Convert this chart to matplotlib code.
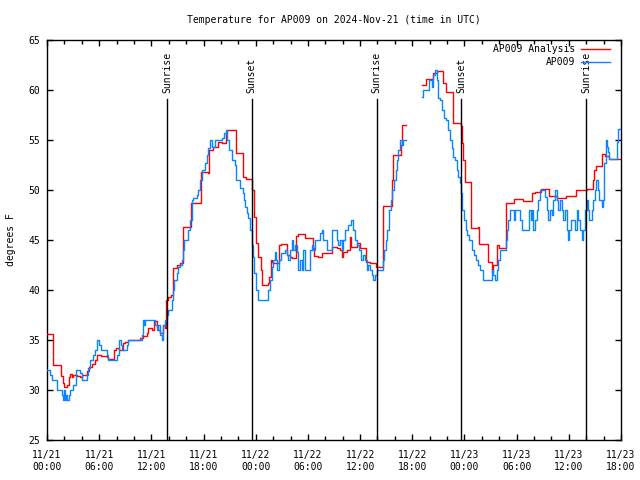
import numpy as np
import matplotlib
matplotlib.use("Agg")
import matplotlib.pyplot as plt
import matplotlib.transforms as mtransforms

# ---- data (hours since 2024-11-21 00:00 UTC) ----
analysis_hours = [0, 0.65, 1.57, 1.8, 1.96, 2.26, 2.49, 2.64, 2.84, 3.03, 3.41, 3.79, 3.99,
                  4.64, 4.79, 5.14, 5.52, 5.71, 6.17, 6.86, 7.05, 7.7, 7.93, 8.32, 8.7, 9.01,
                  9.35, 10.69, 11.0, 11.46, 11.65, 12.04, 12.3, 12.61, 12.8, 12.99, 13.38,
                  13.57, 13.68, 13.95, 14.22, 14.45, 14.52, 14.91, 15.29, 15.6, 15.68, 16.56,
                  17.71, 18.55, 18.67, 19.12, 19.7, 20.08, 20.58, 20.73, 21.73, 22.57, 22.88,
                  23.53, 23.61, 23.84, 24.03, 24.3, 24.57, 24.68, 25.45, 25.57, 25.72, 25.91,
                  26.02, 26.71, 26.87, 27.63, 27.94, 28.13, 28.63, 28.9, 29.67, 30.63, 30.74,
                  31.2, 31.58, 32.73, 33.31, 33.69, 33.88, 34.07, 34.46, 34.84, 34.96, 35.61,
                  35.99, 36.64, 37.14, 37.83, 38.59, 38.67, 39.71, 39.75, 40.7, 40.78, 41.27,
                  43.15, 43.58, 44.42, 44.81, 45.57, 45.88, 46.64, 47.57, 47.76, 47.87, 48.06,
                  48.71, 49.6, 49.71, 50.74, 51.13, 51.32, 51.78, 52.01, 52.74, 53.7, 54.77,
                  55.8, 56.1, 56.76, 57.76, 58.6, 59.68, 60.85, 62.1, 62.75, 62.9, 63.15,
                  63.8, 64.17, 64.66, 66.0]
analysis_temps = [35.6, 32.5, 31.4, 30.7, 30.3, 30.5, 31.3, 31.6, 31.3, 31.5, 31.4, 31.3, 31.5,
                  31.9, 32.3, 32.6, 33.0, 33.5, 33.4, 33.3, 33.1, 34.0, 34.2, 34.0, 34.7, 34.8,
                  35.0, 35.2, 35.4, 35.7, 36.2, 36.0, 36.9, 36.3, 36.0, 35.7, 36.5,
                  36.2, 39.0, 39.3, 39.5, 40.0, 42.2, 42.5, 42.7, 43.7, 46.3, 48.7,
                  51.8, 51.7, 54.0, 54.3, 54.8, 54.7, 55.7, 56.0, 53.7, 51.3, 51.1,
                  51.0, 50.0, 47.3, 44.7, 43.3, 42.0, 40.5, 40.7, 41.3, 43.0, 42.8,
                  42.7, 44.5, 44.6, 43.5, 43.3, 43.2, 45.4, 45.6, 45.2, 44.2, 43.4,
                  43.3, 43.7, 44.3, 44.2, 44.0, 43.3, 43.8, 44.0, 45.3, 44.3, 44.7,
                  44.2, 42.8, 42.7, 42.3, 45.3, 48.4, 51.0, 53.5, 54.5, 56.5, np.nan,
                  60.5, 61.1, 61.7, 61.9, 60.7, 59.8, 56.7, 56.4, 54.7, 53.0, 50.8,
                  46.2, 46.3, 44.6, 42.8, 41.8, 42.5, 44.5, 44.2, 48.7, 49.1, 48.9,
                  49.7, 49.8, 50.1, 49.4, 49.2, 49.4, 50.0, 50.1, 51.0, 52.0, 52.4,
                  53.6, 53.4, 53.1, 53.1]

station_hours = [0, 0.35, 0.54, 1.11, 1.69, 1.8, 1.92, 2.07, 2.18, 2.34, 2.49, 2.64, 3.03,
                 3.33, 3.79, 3.99, 4.56, 4.75, 4.94, 5.33, 5.52, 5.79, 6.02, 6.21, 6.86, 7.05,
                 8.01, 8.28, 8.47, 8.59, 9.24, 9.35, 10.88, 11.08, 11.19, 11.31, 12.42, 12.61,
                 12.8, 12.99, 13.19, 13.38, 13.57, 13.76, 13.95, 14.41, 14.52, 14.64, 14.91,
                 15.1, 15.29, 15.48, 15.6, 15.79, 16.25, 16.44, 16.63, 16.83, 17.21, 17.4,
                 17.59, 17.79, 18.17, 18.36, 18.55, 18.74, 18.93, 19.32, 20.08, 20.35, 20.58,
                 20.73, 20.96, 21.23, 21.61, 21.73, 22.19, 22.5, 22.65, 22.77, 22.96, 23.15,
                 23.34, 23.53, 23.65, 23.8, 24.03, 24.3, 25.26, 25.37, 25.64, 25.83, 26.02,
                 26.21, 26.33, 26.48, 26.71, 26.87, 27.37, 27.56, 27.75, 27.94, 28.13, 28.33,
                 28.52, 28.71, 28.9, 29.09, 29.28, 29.48, 29.67, 30.24, 30.43, 30.63, 30.82,
                 31.39, 31.58, 31.77, 32.15, 32.73, 33.31, 33.5, 33.69, 33.88, 34.07, 34.27,
                 34.65, 34.92, 35.15, 35.41, 35.61, 35.91, 36.06, 36.37, 36.56, 36.75, 36.95,
                 37.14, 37.33, 37.52, 37.71, 37.91, 38.59, 38.75, 38.94, 39.13, 39.33, 39.52,
                 39.71, 39.9, 40.09, 40.21, 40.4, 40.59, 40.78, 40.97, 41.27,
                 43.15, 43.25, 43.34, 43.96, 44.23, 44.42, 44.61, 44.81, 45.0, 45.19, 45.38,
                 45.65, 45.88, 46.15, 46.34, 46.53, 46.72, 46.91, 47.1, 47.3, 47.49, 47.6,
                 47.75, 47.95, 48.14, 48.33, 48.52, 48.83, 49.1, 49.33, 49.6, 49.79, 50.17,
                 51.13, 51.32, 51.51, 51.71, 51.9, 52.09, 52.74, 52.86, 53.05, 53.24, 53.7,
                 53.81, 54.39, 54.58, 55.46, 55.61, 55.73, 55.92, 56.11, 56.3, 56.49, 56.69,
                 57.26, 57.45, 57.64, 57.84, 58.03, 58.22, 58.41, 58.6, 58.79, 58.98, 59.17,
                 59.37, 59.56, 59.75, 59.86, 60.05, 60.2, 60.7, 60.9, 61.09, 61.28, 61.47,
                 61.66, 61.86, 62.05, 62.24, 62.35, 62.62, 62.81, 63.0, 63.09, 63.32, 63.51,
                 63.78, 63.9, 64.08, 64.24, 64.35, 64.54, 64.66, 65.57, 65.69, 66.0]
station_temps = [32.0, 31.5, 31.0, 30.0, 29.5, 29.0, 30.0, 29.0, 29.5, 29.0, 29.5, 30.0, 30.5,
                 32.0, 31.7, 31.0, 31.5, 32.2, 33.0, 33.5, 34.0, 35.0, 34.5, 34.0, 33.5, 33.0,
                 33.5, 35.0, 34.5, 34.0, 34.5, 35.0, 35.5, 37.0, 36.5, 37.0, 36.5, 36.0,
                 36.5, 35.5, 35.0, 36.5, 37.0, 37.5, 38.0, 39.0, 40.0, 41.0, 41.7,
                 42.3, 42.5, 43.0, 44.0, 45.0, 46.0, 47.0, 49.0, 49.2, 49.5, 50.0,
                 51.0, 52.0, 52.7, 53.5, 54.2, 55.0, 54.3, 55.0, 55.2, 55.7, 56.0,
                 55.0, 54.0, 53.0, 52.5, 51.0, 50.2, 49.7, 49.0, 48.3, 47.7, 47.2,
                 46.0, 44.5, 43.3, 41.7, 40.0, 39.0, 39.0, 40.0, 41.0, 42.3, 43.0,
                 43.8, 43.0, 42.0, 43.0, 43.7, 44.0, 43.5, 43.0, 44.0, 45.0, 44.0,
                 44.5, 43.8, 42.0, 43.0, 42.0, 44.0, 42.0, 44.0, 44.5, 44.0, 45.0,
                 45.7, 46.0, 45.0, 44.0, 46.0, 45.0, 44.5, 45.0, 44.0, 45.0, 46.0,
                 46.5, 47.0, 46.0, 45.0, 44.5, 44.0, 43.0, 43.5, 43.0, 42.0, 42.5,
                 42.0, 41.5, 41.0, 41.5, 42.0, 43.0, 44.0, 45.0, 46.0, 48.0, 49.0,
                 50.0, 51.0, 52.0, 53.0, 54.0, 55.0, 54.5, 55.0, np.nan,
                 59.3, 60.0, 60.0, 61.0, 60.3, 61.5, 62.0, 61.0, 59.2, 59.0, 58.0,
                 57.2, 57.0, 56.0, 55.0, 54.2, 53.3, 53.0, 52.0, 51.3, 50.7, 49.7,
                 48.0, 47.0, 46.0, 45.5, 45.0, 44.0, 43.5, 43.0, 42.5, 42.0, 41.0,
                 42.0, 41.5, 41.0, 42.0, 43.0, 44.0, 45.0, 46.0, 47.0, 48.0, 47.0,
                 48.0, 47.0, 46.0, 48.0, 47.0, 48.0, 46.0, 47.0, 48.0, 49.0, 50.0,
                 49.3, 48.0, 47.0, 48.0, 47.5, 49.0, 50.0, 49.0, 48.0, 49.0, 48.0,
                 47.0, 48.0, 46.0, 45.0, 46.0, 47.0, 46.0, 48.0, 47.0, 46.0, 45.0,
                 46.0, 48.0, 49.0, 48.0, 47.0, 48.0, 49.0, 50.0, 51.0, 50.0, 49.0,
                 48.3, 49.0, 52.7, 55.0, 54.3, 53.8, 53.1, 54.8, 56.1, 56.1]

event_hours = [13.83, 23.53, 37.91, 47.6, 61.97]
event_labels = ["Sunrise", "Sunset", "Sunrise", "Sunset", "Sunrise"]

tick_hours = [0, 6, 12, 18, 24, 30, 36, 42, 48, 54, 60, 66]
tick_labels = ["11/21\n00:00", "11/21\n06:00", "11/21\n12:00", "11/21\n18:00",
               "11/22\n00:00", "11/22\n06:00", "11/22\n12:00", "11/22\n18:00",
               "11/23\n00:00", "11/23\n06:00", "11/23\n12:00", "11/23\n18:00"]
y_ticks = [25, 30, 35, 40, 45, 50, 55, 60, 65]

plt.rcParams['font.family'] = ['DejaVu Sans Mono']
FS = 7

fig = plt.figure(figsize=(6.4, 4.8), dpi=100)
ax = fig.add_axes([47/640, 40/480, (621-47)/640, 400/480])

ax.plot(analysis_hours, analysis_temps, drawstyle='steps-post', color='#ff0000',
        lw=1.0, label='AP009 Analysis', zorder=3)
ax.plot(station_hours, station_temps, drawstyle='steps-post', color='#0a84ff',
        lw=1.0, label='AP009', zorder=4)

trans = mtransforms.blended_transform_factory(ax.transData, ax.transAxes)
for h, lab in zip(event_hours, event_labels):
    ax.plot([h, h], [0, 0.853], transform=trans, color='black', lw=1.0, zorder=5)
    ax.text(h, 0.868, lab, transform=trans, rotation=90, ha='center', va='bottom',
            fontsize=FS)

ax.set_xlim(0, 66)
ax.set_ylim(25, 65)
ax.set_xticks(tick_hours)
ax.set_xticklabels(tick_labels, fontsize=FS, linespacing=1.3)
ax.set_xticks(np.arange(0, 67, 2), minor=True)
ax.set_yticks(y_ticks)
ax.set_yticklabels([str(v) for v in y_ticks], fontsize=FS)
ax.tick_params(which='both', direction='in', top=True, right=True, width=1.0)
ax.tick_params(axis='x', which='major', length=4, pad=7)
ax.tick_params(axis='y', which='major', length=4, pad=5)
ax.tick_params(which='minor', length=3)
for s in ax.spines.values():
    s.set_linewidth(1.0)

ax.set_ylabel('degrees F', fontsize=FS, labelpad=9)
ax.set_title('Temperature for AP009 on 2024-Nov-21 (time in UTC)', fontsize=FS, pad=12)

ax.legend(loc='upper right', bbox_to_anchor=(1 - 9/574, 1 - 2/400), frameon=False,
          markerfirst=False, fontsize=FS, handlelength=3.0, handletextpad=0.6,
          borderaxespad=0.0, labelspacing=0.35, borderpad=0.2)

fig.savefig('out.png', dpi=100)
